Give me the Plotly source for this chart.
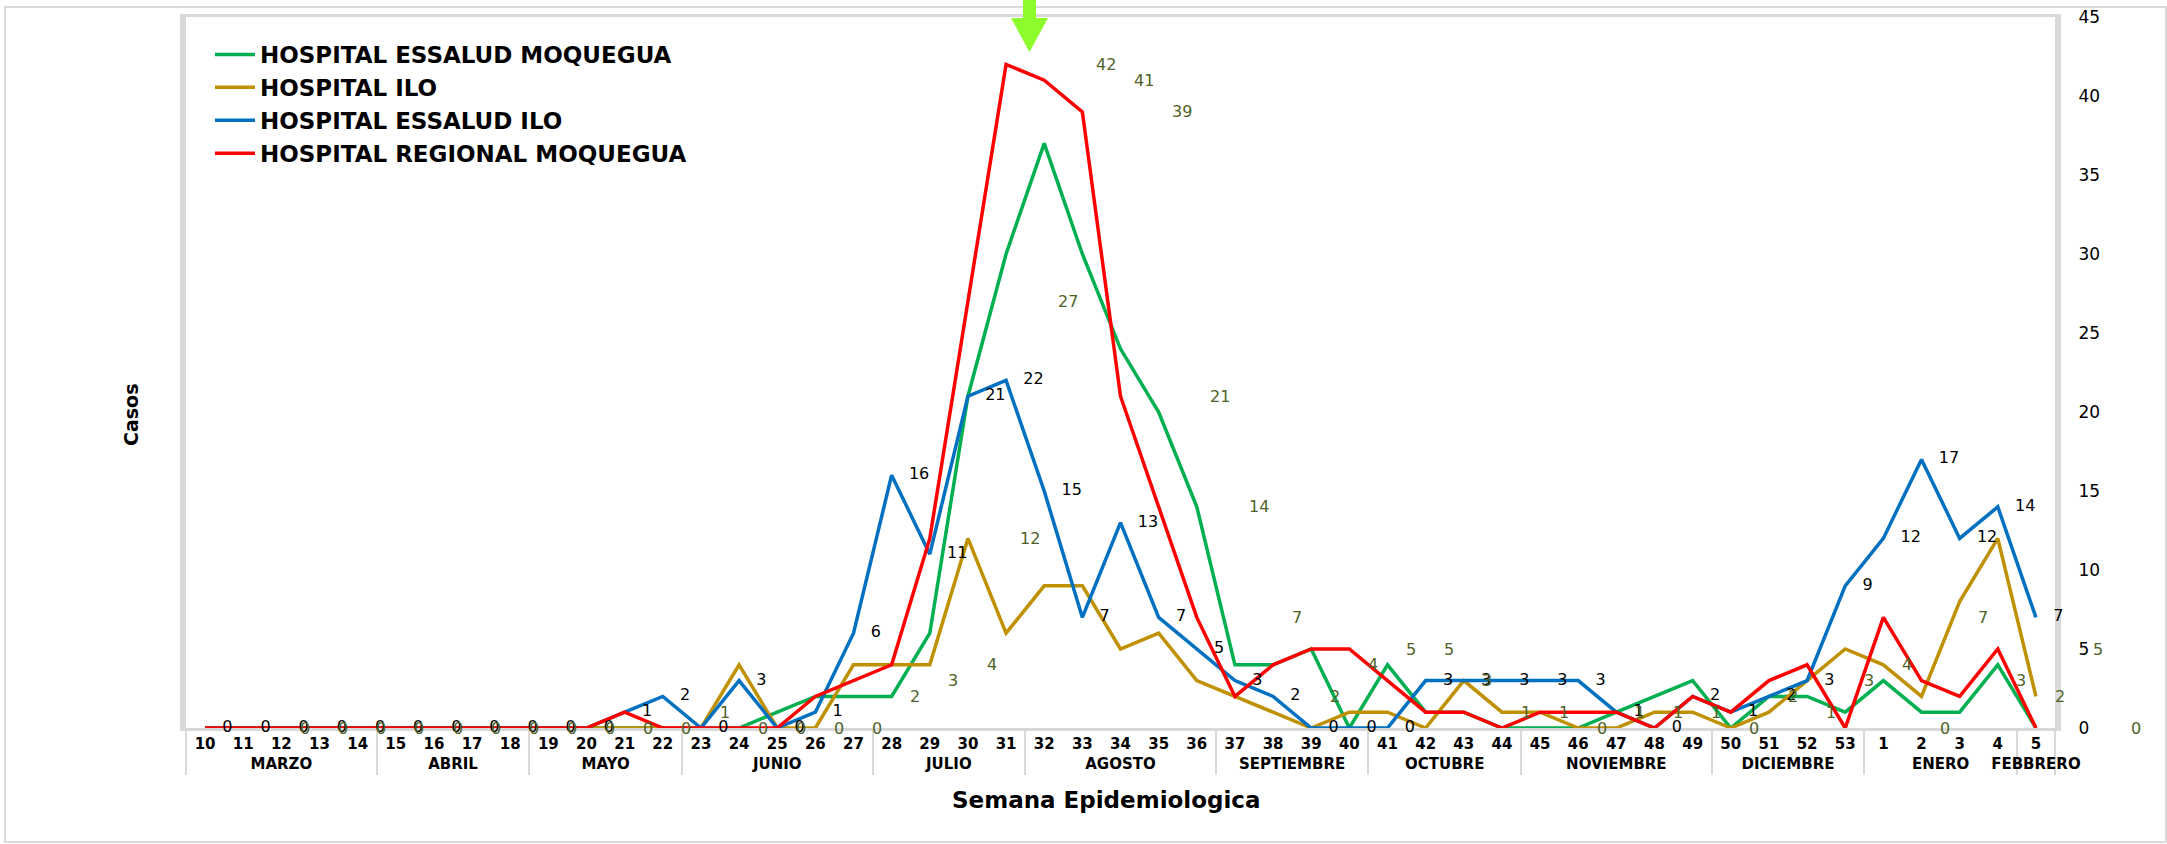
import plotly.graph_objects as go

# Epidemiological weeks (10..53, then 1..5 of the following year)
weeks = ["10", "11", "12", "13", "14", "15", "16", "17", "18", "19", "20", "21", "22",
         "23", "24", "25", "26", "27", "28", "29", "30", "31", "32", "33", "34", "35",
         "36", "37", "38", "39", "40", "41", "42", "43", "44", "45", "46", "47", "48",
         "49", "50", "51", "52", "53", "1", "2", "3", "4", "5"]

month_names = ["MARZO", "ABRIL", "MAYO", "JUNIO", "JULIO", "AGOSTO", "SEPTIEMBRE",
               "OCTUBRE", "NOVIEMBRE", "DICIEMBRE", "ENERO", "FEBBRERO"]
month_weeks = [5, 4, 4, 5, 4, 5, 4, 4, 5, 4, 4, 1]

essalud_moquegua = [0, 0, 0, 0, 0, 0, 0, 0, 0, 0, 0, 0, 0, 0, 0, 1, 2, 2, 2, 6, 21, 30,
                    37, 30, 24, 20, 14, 4, 4, 5, 0, 4, 1, 1, 0, 0, 0, 1, 2, 3, 0, 2, 2,
                    1, 3, 1, 1, 4, 0]
hospital_ilo = [0, 0, 0, 0, 0, 0, 0, 0, 0, 0, 0, 0, 0, 0, 4, 0, 0, 4, 4, 4, 12, 6, 9,
                9, 5, 6, 3, 2, 1, 0, 1, 1, 0, 3, 1, 1, 0, 0, 1, 1, 0, 1, 3, 5, 4, 2,
                8, 12, 2]
essalud_ilo = [0, 0, 0, 0, 0, 0, 0, 0, 0, 0, 0, 1, 2, 0, 3, 0, 1, 6, 16, 11, 21, 22,
               15, 7, 13, 7, 5, 3, 2, 0, 0, 0, 3, 3, 3, 3, 3, 1, 0, 2, 1, 2, 3, 9,
               12, 17, 12, 14, 7]
regional_moquegua = [0, 0, 0, 0, 0, 0, 0, 0, 0, 0, 0, 1, 0, 0, 0, 0, 2, 3, 4, 12, 27,
                     42, 41, 39, 21, 14, 7, 2, 4, 5, 5, 3, 1, 1, 0, 1, 1, 1, 0, 2, 1,
                     3, 4, 0, 7, 3, 2, 5, 0]

series = [
    ("HOSPITAL ESSALUD MOQUEGUA", essalud_moquegua, "#00B050"),
    ("HOSPITAL ILO", hospital_ilo, "#BF9000"),
    ("HOSPITAL ESSALUD ILO", essalud_ilo, "#0070C0"),
    ("HOSPITAL REGIONAL MOQUEGUA", regional_moquegua, "#FF0000"),
]

# month label for every week -> two-level category axis
week_month = []
for name, count in zip(month_names, month_weeks):
    week_month += [name] * count
x_cat = [week_month, weeks]

# plot-area geometry in pixels
W, H = 2167, 844
PL, PR, PT, PB = 186, 2055, 17, 728


def fx(px):
    return (px - PL) / (PR - PL)


def fy(py):
    return (PB - py) / (PB - PT)


n = len(weeks)
CAT_PX = (PR - PL) / n
LABEL_SHIFT_PX = 2.62 * CAT_PX  # regional series labels sit shifted to the right

fig = go.Figure()

for name, vals, color in series:
    fig.add_trace(go.Scatter(
        x=x_cat, y=vals, name=name, mode="lines",
        line=dict(color=color, width=3.5),
        cliponaxis=False, hoverinfo="skip",
    ))

# value labels of HOSPITAL ESSALUD ILO, right of each point
fig.add_trace(go.Scatter(
    x=x_cat, y=essalud_ilo, mode="markers+text",
    marker=dict(size=26, color="rgba(0,0,0,0)"),
    text=[str(v) for v in essalud_ilo], textposition="middle right",
    textfont=dict(family="DejaVu Sans", size=16, color="#000000"),
    showlegend=False, cliponaxis=False, hoverinfo="skip",
))

# value labels of HOSPITAL REGIONAL MOQUEGUA (offset to the right)
annotations = [
    dict(text=str(v), xref="x2", yref="y", x=i, y=v, xshift=LABEL_SHIFT_PX,
         xanchor="center", yanchor="middle", showarrow=False,
         font=dict(family="DejaVu Sans", size=16, color="#4F6228"))
    for i, v in enumerate(regional_moquegua)
]

# downward arrow marking the peak
ax = [1023, 1036, 1036, 1048, 1029.5, 1011, 1023]
ay = [0, 0, 18, 18, 52, 18, 18]
path = "M " + " L ".join(f"{fx(a):.5f},{fy(b):.5f}" for a, b in zip(ax, ay)) + " Z"

shapes = [
    dict(type="path", xref="paper", yref="paper", path=path,
         fillcolor="#8CFC2C", line=dict(width=0), layer="above"),
    dict(type="rect", xref="paper", yref="paper",
         x0=fx(5), x1=fx(2166), y0=fy(842), y1=fy(7),
         line=dict(color="#D9D9D9", width=2), layer="below"),
]

annotations += [
    dict(text="<b>Casos</b>", xref="paper", yref="paper", x=fx(131), y=fy(415),
         xanchor="center", yanchor="middle",
         showarrow=False, textangle=-90,
         font=dict(family="DejaVu Sans", size=19, color="#000000")),
    dict(text="<b>Semana Epidemiologica</b>", xref="paper", yref="paper",
         x=fx(1106), y=fy(800), xanchor="center", yanchor="middle", showarrow=False,
         font=dict(family="DejaVu Sans", size=23, color="#000000")),
]

fig.update_layout(
    width=W, height=H, autosize=False,
    margin=dict(l=PL, r=W - PR, t=PT, b=H - PB, pad=0),
    paper_bgcolor="white", plot_bgcolor="white",
    showlegend=True,
    legend=dict(
        x=fx(210), y=fy(33), xanchor="left", yanchor="top",
        font=dict(family="DejaVu Sans", size=23, color="#000000", weight="bold"),
        bgcolor="rgba(0,0,0,0)", tracegroupgap=0, itemwidth=40,
    ),
    xaxis=dict(
        type="multicategory", range=[-0.5, n - 0.5], autorange=False,
        showgrid=False, zeroline=False,
        showline=True, mirror=True, linecolor="#D9D9D9", linewidth=3,
        ticks="", layer="below traces", automargin=False,
        tickfont=dict(family="DejaVu Sans", size=15, color="#000000", weight="bold"),
        showdividers=True, dividercolor="#D9D9D9", dividerwidth=2,
    ),
    xaxis2=dict(
        overlaying="x", anchor="y", visible=False,
        range=[-0.5, n - 0.5], autorange=False,
    ),
    yaxis=dict(
        side="right", range=[0, 45], dtick=5, showgrid=False, zeroline=False,
        showline=True, mirror=True, linecolor="#D9D9D9", linewidth=6,
        ticks="", layer="below traces", automargin=False,
        ticklabelstandoff=14,
        tickfont=dict(family="DejaVu Sans", size=17, color="#000000"),
    ),
    shapes=shapes,
    annotations=annotations,
)

fig.write_html("out.html")
